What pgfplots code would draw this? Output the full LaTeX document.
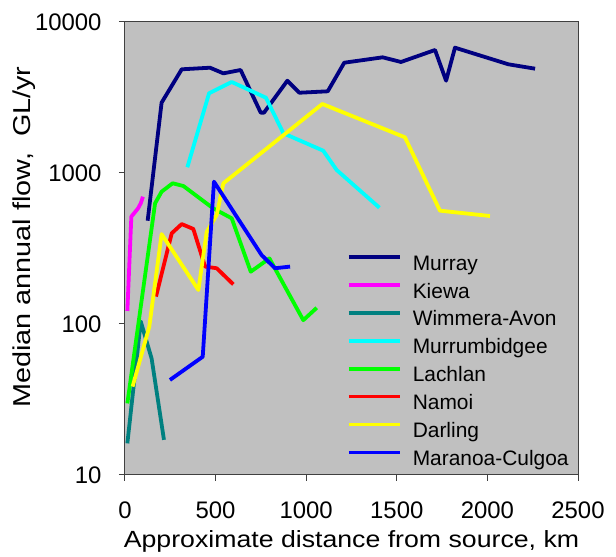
\documentclass[border=0pt]{standalone}
\usepackage{fontspec}
\setmainfont{Liberation Sans}
\newfontfamily\xlabfont{Liberation Sans}[FakeStretch=1.14]
\newfontfamily\ylabfont{Liberation Sans}[FakeStretch=1.18]
\usepackage{pgfplots}
\pgfplotsset{compat=1.18}
\definecolor{bgc}{RGB}{192,192,192}
\definecolor{axc}{RGB}{64,64,64}
\definecolor{cMurray}{RGB}{0,0,128}
\definecolor{cKiewa}{RGB}{255,0,255}
\definecolor{cWimmera}{RGB}{0,128,128}
\definecolor{cMurrum}{RGB}{0,255,255}
\definecolor{cLachlan}{RGB}{0,255,0}
\definecolor{cNamoi}{RGB}{255,0,0}
\definecolor{cDarling}{RGB}{255,255,0}
\definecolor{cMaranoa}{RGB}{0,0,255}
\begin{document}
\begin{tikzpicture}
\path[use as bounding box] (-125bp,-82bp) rectangle (491bp,475bp);
\begin{axis}[
  at={(0,0)}, anchor=south west,
  scale only axis, width=453bp, height=453bp,
  ymode=log, xmin=0, xmax=2500, ymin=10, ymax=10000,
  xtick={0,500,1000,1500,2000,2500},
  xticklabels={0,500,1000,1500,2000,2500},
  ytick={10,100,1000,10000},
  yticklabels={10,100,1000,10000},
  xminorticks=false, yminorticks=false,
  tick pos=left, tick align=outside, major tick length=6bp,
  axis line style={axc, line width=1bp},
  every tick/.style={axc, line width=1bp},
  axis background/.style={fill=bgc},
  tick label style={font=\fontsize{24}{28}\selectfont, inner sep=0pt},
  xticklabel shift=20.7bp,
  yticklabel shift=17.3bp,
  xlabel={Approximate distance from source, km},
  ylabel={Median annual flow,\ \ GL/yr},
  xlabel style={font=\xlabfont\fontsize{23.5}{28}\selectfont, at={(axis description cs:0.5,-0.1611)}, anchor=base, inner sep=0pt},
  ylabel style={font=\ylabfont\fontsize{24.5}{28}\selectfont, at={(axis description cs:-0.208,0.5254)}, anchor=base, inner sep=0pt},
  legend cell align=left,
  legend style={at={(axis description cs:0.490,0.4857)}, anchor=north west,
    draw=none, fill=none, inner sep=0pt, row sep=8.9bp, column sep=11bp,
    font=\fontsize{21}{25}\selectfont,
    nodes={inner sep=0pt, text height=15bp, text depth=4bp}},
  legend image code/.code={\draw[#1, line width=3.6bp] (0bp,7.5bp) -- (51bp,7.5bp);},
  every axis plot/.append style={line width=3.8bp, line join=round, mark=none},
]
\addplot[cMurray] coordinates {(125,483) (202,2923) (313,4860) (469,4980) (543,4570) (638,4810) (749,2510) (767,2510) (896,4085) (962,3400) (1119,3475) (1210,5375) (1422,5835) (1523,5435) (1711,6525) (1772,4085) (1821,6760) (2116,5245) (2263,4907)};
\addlegendentry{Murray}
\addplot[cKiewa] coordinates {(13,122) (35,514) (72,583) (87,630) (99,697)};
\addlegendentry{Kiewa}
\addplot[cWimmera] coordinates {(13,16.2) (87,104) (147,59) (215,17.1)};
\addlegendentry{Wimmera-Avon}
\addplot[cMurrum] coordinates {(344,1091) (464,3373) (589,4006) (778,3152) (874,1832) (1094,1405) (1168,1047) (1404,589)};
\addlegendentry{Murrumbidgee}
\addplot[cLachlan] coordinates {(13,29.8) (166,630) (202,752) (263,855) (322,820) (487,583) (589,501) (694,222) (797,272) (984,106) (1058,128)};
\addlegendentry{Lachlan}
\addplot[cNamoi] coordinates {(171,152) (258,399) (313,459) (377,426) (442,240) (506,234) (598,183)};
\addlegendentry{Namoi}
\addplot[cDarling] coordinates {(42,38.5) (134,96) (202,394) (405,168) (451,408) (506,527) (543,855) (1089,2864) (1545,1723) (1738,563) (2014,519)};
\addlegendentry{Darling}
\addplot[cMaranoa] coordinates {(248,42.6) (429,60.7) (491,876) (754,286) (828,234) (911,240)};
\addlegendentry{Maranoa-Culgoa}
\end{axis}
\end{tikzpicture}
\end{document}
